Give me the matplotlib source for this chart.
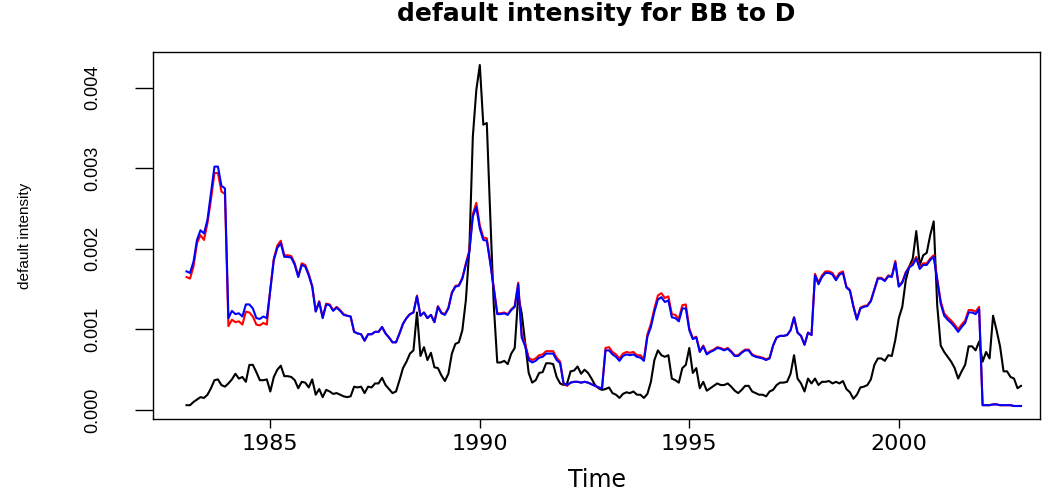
import numpy as np
import matplotlib
matplotlib.use("Agg")
import matplotlib.pyplot as plt

# Monthly series, Jan 1983 .. Dec 2002, values in units of 1e-3
start_year = 1983
freq = 12

actual = [
    0.06, 0.06, 0.10, 0.13, 0.16, 0.15, 0.19, 0.27, 0.37, 0.38, 0.31, 0.29,  # 1983
    0.33, 0.38, 0.45, 0.39, 0.41, 0.35, 0.56, 0.56, 0.47, 0.37, 0.37, 0.38,  # 1984
    0.23, 0.41, 0.50, 0.55, 0.42, 0.42, 0.41, 0.37, 0.27, 0.35, 0.34, 0.28,  # 1985
    0.38, 0.19, 0.26, 0.16, 0.25, 0.23, 0.20, 0.21, 0.19, 0.17, 0.16, 0.17,  # 1986
    0.29, 0.28, 0.29, 0.21, 0.29, 0.28, 0.33, 0.33, 0.40, 0.31, 0.26, 0.21,  # 1987
    0.23, 0.37, 0.52, 0.60, 0.70, 0.74, 1.21, 0.67, 0.78, 0.62, 0.71, 0.53,  # 1988
    0.52, 0.43, 0.36, 0.45, 0.70, 0.82, 0.84, 0.99, 1.36, 1.99, 3.39, 3.97,  # 1989
    4.28, 3.54, 3.56, 2.40, 1.30, 0.59, 0.59, 0.61, 0.57, 0.70, 0.77, 1.42,  # 1990
    1.20, 0.83, 0.46, 0.34, 0.37, 0.46, 0.47, 0.58, 0.58, 0.57, 0.41, 0.33,  # 1991
    0.31, 0.33, 0.48, 0.49, 0.54, 0.45, 0.50, 0.46, 0.39, 0.31, 0.27, 0.25,  # 1992
    0.26, 0.28, 0.21, 0.19, 0.15, 0.20, 0.22, 0.21, 0.23, 0.19, 0.19, 0.15,  # 1993
    0.20, 0.35, 0.62, 0.74, 0.68, 0.66, 0.68, 0.39, 0.37, 0.34, 0.52, 0.56,  # 1994
    0.77, 0.46, 0.52, 0.27, 0.35, 0.24, 0.27, 0.30, 0.33, 0.31, 0.31, 0.33,  # 1995
    0.29, 0.24, 0.21, 0.25, 0.30, 0.30, 0.23, 0.21, 0.19, 0.19, 0.17, 0.23,  # 1996
    0.25, 0.31, 0.34, 0.34, 0.35, 0.45, 0.68, 0.39, 0.33, 0.23, 0.39, 0.33,  # 1997
    0.39, 0.31, 0.35, 0.35, 0.36, 0.33, 0.35, 0.33, 0.36, 0.26, 0.22, 0.14,  # 1998
    0.19, 0.28, 0.29, 0.31, 0.38, 0.56, 0.64, 0.64, 0.61, 0.68, 0.67, 0.87,  # 1999
    1.14, 1.28, 1.61, 1.78, 1.88, 2.22, 1.80, 1.92, 1.95, 2.17, 2.34, 1.30,  # 2000
    0.80, 0.72, 0.66, 0.60, 0.52, 0.39, 0.48, 0.56, 0.79, 0.79, 0.74, 0.85,  # 2001
    0.60, 0.72, 0.64, 1.17, 0.99, 0.79, 0.48, 0.48, 0.41, 0.39, 0.27, 0.30,  # 2002
]

model_red = [
    1.65, 1.63, 1.78, 2.07, 2.17, 2.11, 2.32, 2.61, 2.94, 2.94, 2.71, 2.68,
    1.04, 1.12, 1.09, 1.10, 1.06, 1.22, 1.21, 1.16, 1.06, 1.05, 1.08, 1.06,
    1.50, 1.88, 2.04, 2.10, 1.92, 1.92, 1.91, 1.82, 1.66, 1.82, 1.80, 1.69,
    1.54, 1.23, 1.35, 1.15, 1.32, 1.31, 1.24, 1.28, 1.24, 1.19, 1.17, 1.16,
    0.97, 0.95, 0.94, 0.86, 0.94, 0.94, 0.97, 0.97, 1.03, 0.95, 0.90, 0.84,
    0.84, 0.95, 1.07, 1.14, 1.19, 1.21, 1.42, 1.17, 1.21, 1.14, 1.18, 1.09,
    1.29, 1.21, 1.19, 1.27, 1.46, 1.54, 1.55, 1.64, 1.82, 1.98, 2.43, 2.57,
    2.29, 2.14, 2.13, 1.84, 1.52, 1.20, 1.20, 1.21, 1.19, 1.25, 1.29, 1.58,
    0.93, 0.82, 0.65, 0.62, 0.64, 0.68, 0.69, 0.73, 0.73, 0.73, 0.65, 0.60,
    0.32, 0.30, 0.34, 0.35, 0.35, 0.34, 0.35, 0.34, 0.32, 0.30, 0.28, 0.27,
    0.77, 0.78, 0.72, 0.69, 0.64, 0.70, 0.72, 0.71, 0.72, 0.68, 0.68, 0.63,
    0.94, 1.07, 1.26, 1.42, 1.45, 1.39, 1.41, 1.19, 1.18, 1.13, 1.30, 1.31,
    1.01, 0.89, 0.91, 0.73, 0.80, 0.70, 0.73, 0.75, 0.78, 0.77, 0.75, 0.77,
    0.73, 0.68, 0.68, 0.72, 0.75, 0.75, 0.69, 0.67, 0.66, 0.65, 0.63, 0.65,
    0.80, 0.90, 0.92, 0.92, 0.93, 0.99, 1.15, 0.96, 0.92, 0.81, 0.96, 0.93,
    1.69, 1.58, 1.67, 1.72, 1.72, 1.70, 1.63, 1.70, 1.72, 1.53, 1.49, 1.29,
    1.13, 1.27, 1.29, 1.30, 1.36, 1.50, 1.64, 1.64, 1.61, 1.67, 1.66, 1.85,
    1.54, 1.59, 1.71, 1.78, 1.82, 1.90, 1.77, 1.82, 1.82, 1.88, 1.92, 1.63,
    1.35, 1.20, 1.15, 1.11, 1.06, 1.00, 1.06, 1.11, 1.24, 1.24, 1.22, 1.28,
    0.06, 0.06, 0.06, 0.07, 0.07, 0.06, 0.06, 0.06, 0.06, 0.05, 0.05, 0.05,
]

model_blue = [
    1.72, 1.70, 1.84, 2.11, 2.23, 2.19, 2.36, 2.69, 3.02, 3.02, 2.78, 2.75,
    1.14, 1.23, 1.19, 1.20, 1.16, 1.31, 1.31, 1.26, 1.14, 1.13, 1.16, 1.14,
    1.49, 1.86, 2.01, 2.07, 1.90, 1.90, 1.89, 1.80, 1.65, 1.80, 1.78, 1.67,
    1.53, 1.22, 1.34, 1.14, 1.31, 1.30, 1.23, 1.27, 1.23, 1.18, 1.17, 1.16,
    0.97, 0.95, 0.94, 0.86, 0.94, 0.94, 0.97, 0.97, 1.03, 0.95, 0.90, 0.84,
    0.84, 0.95, 1.07, 1.14, 1.19, 1.21, 1.41, 1.17, 1.21, 1.14, 1.18, 1.09,
    1.28, 1.20, 1.18, 1.26, 1.45, 1.53, 1.54, 1.63, 1.80, 1.96, 2.40, 2.52,
    2.25, 2.11, 2.10, 1.82, 1.50, 1.19, 1.19, 1.20, 1.18, 1.24, 1.28, 1.56,
    0.90, 0.79, 0.62, 0.59, 0.61, 0.65, 0.66, 0.70, 0.70, 0.70, 0.62, 0.58,
    0.33, 0.31, 0.34, 0.35, 0.35, 0.34, 0.35, 0.34, 0.32, 0.30, 0.28, 0.27,
    0.74, 0.74, 0.69, 0.66, 0.61, 0.67, 0.69, 0.68, 0.69, 0.66, 0.65, 0.61,
    0.91, 1.03, 1.22, 1.37, 1.40, 1.34, 1.36, 1.15, 1.14, 1.10, 1.26, 1.26,
    0.99, 0.88, 0.90, 0.72, 0.79, 0.69, 0.72, 0.74, 0.77, 0.76, 0.74, 0.76,
    0.72, 0.67, 0.67, 0.71, 0.74, 0.74, 0.68, 0.66, 0.65, 0.64, 0.62, 0.64,
    0.80, 0.90, 0.92, 0.92, 0.93, 0.99, 1.15, 0.96, 0.92, 0.81, 0.96, 0.93,
    1.67, 1.56, 1.65, 1.70, 1.70, 1.68, 1.61, 1.68, 1.70, 1.52, 1.48, 1.28,
    1.12, 1.26, 1.28, 1.29, 1.35, 1.49, 1.63, 1.63, 1.60, 1.66, 1.65, 1.83,
    1.53, 1.58, 1.70, 1.77, 1.80, 1.88, 1.75, 1.80, 1.80, 1.86, 1.90, 1.61,
    1.32, 1.17, 1.12, 1.08, 1.03, 0.97, 1.03, 1.08, 1.21, 1.21, 1.19, 1.25,
    0.06, 0.06, 0.06, 0.07, 0.07, 0.06, 0.06, 0.06, 0.06, 0.05, 0.05, 0.05,
]

x_ticks = [1985, 1990, 1995, 2000]
y_ticks = [0.000, 0.001, 0.002, 0.003, 0.004]
y_ticklabels = ["0.000", "0.001", "0.002", "0.003", "0.004"]

unit = 1e-3
t = start_year + np.arange(len(actual)) / freq

W, H = 1052, 493
fig = plt.figure(figsize=(W / 100, H / 100), dpi=100)
left, right, top, bottom = 153, 1040, 51.7, 419.3
ax = fig.add_axes([left / W, 1 - bottom / H, (right - left) / W, (bottom - top) / H])

lw = 1.5
ax.plot(t, np.array(actual) * unit, color="black", lw=lw)
ax.plot(t, np.array(model_red) * unit, color="red", lw=lw)
ax.plot(t, np.array(model_blue) * unit, color="blue", lw=lw)

ax.set_xlim(1982.2, 2003.37)
ax.set_ylim(-0.115e-3, 4.445e-3)

narrow = ["Liberation Sans", "DejaVu Sans"]
wide = ["DejaVu Sans"]

ax.set_xticks(x_ticks)
ax.set_xticklabels([str(v) for v in x_ticks], family=wide, fontsize=16)
ax.set_yticks(y_ticks)
ax.set_yticklabels(y_ticklabels, family=narrow, fontsize=13, rotation=90, va="center")
ax.tick_params(axis="x", length=6.5, width=1.0, pad=4)
ax.tick_params(axis="y", length=13, width=1.0, pad=24)
for s in ax.spines.values():
    s.set_linewidth(1.0)

ax.set_xlabel("Time", family=wide, fontsize=17, labelpad=10)
ax.set_ylabel("default intensity", family=narrow, fontsize=11, labelpad=38)
ax.set_title("default intensity for BB to D", family=wide, fontsize=18,
             fontweight="bold", pad=22)

fig.savefig("out.png", dpi=100)
